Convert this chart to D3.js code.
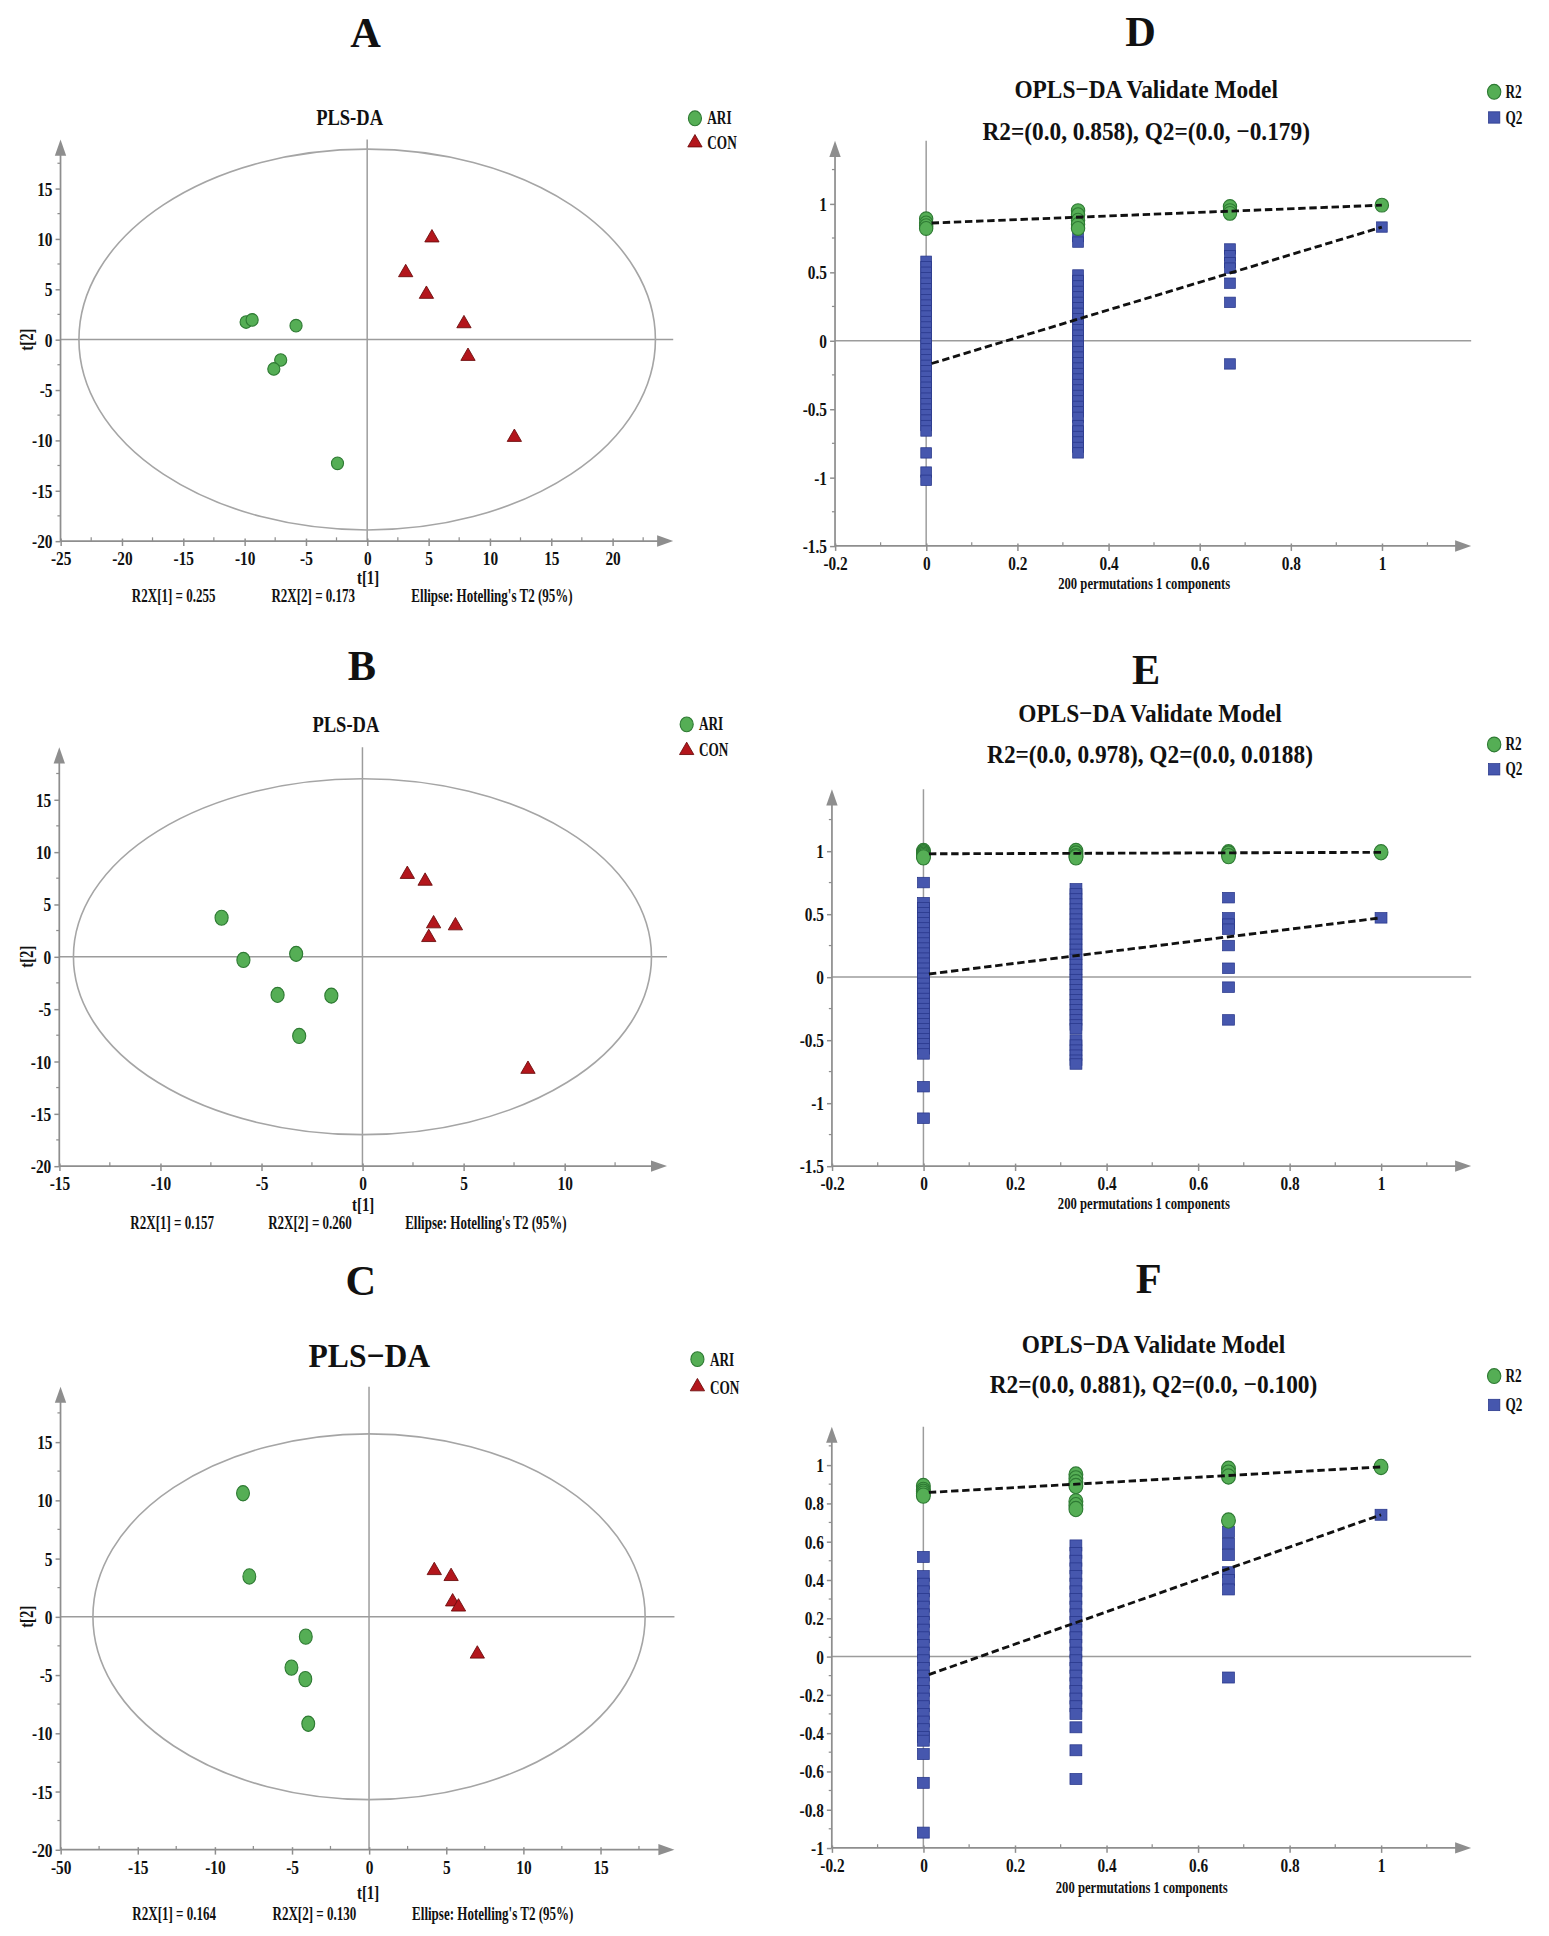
<!DOCTYPE html>
<html>
<head>
<meta charset="utf-8">
<script src="https://cdn.jsdelivr.net/npm/d3@7"></script>
<style>
body { margin: 0; background: #fff; }
svg text { font-family: "Liberation Serif", "Times New Roman", serif; font-weight: bold; fill: #111; }
</style>
</head>
<body>
<div id="fig"></div>
<script>

// ---- PLS-DA score plots (t[1], t[2]) ----
var ariA = [[-9.87, 1.74], [-9.38, 1.95], [-5.8, 1.38], [-7.05, -2.03], [-7.61, -2.92], [-2.42, -12.29]];
var conA = [[5.28, 10.1], [3.14, 6.65], [4.83, 4.5], [7.89, 1.58], [8.22, -1.66], [12.0, -9.7]];
var ariB = [[-6.97, 3.72], [-5.89, -0.31], [-3.28, 0.27], [-4.2, -3.65], [-1.54, -3.72], [-3.13, -7.57]];
var conB = [[2.22, 7.87], [3.1, 7.22], [3.52, 3.15], [4.6, 2.96], [3.28, 1.84], [8.19, -10.75]];
var ariC = [[-8.17, 10.6], [-7.76, 3.46], [-4.1, -1.71], [-5.03, -4.37], [-4.13, -5.36], [-3.94, -9.19]];
var conC = [[4.23, 3.97], [5.32, 3.46], [5.42, 1.28], [5.8, 0.84], [7.02, -3.2]];

// hotelling T2 ellipse half axes (t1, t2)
var ellA = [23.5, 18.9];
var ellB = [14.3, 17.0];
var ellC = [17.9, 15.7];

var statsA = ["R2X[1] = 0.255", "R2X[2] = 0.173", "Ellipse: Hotelling's T2 (95%)"];
var statsB = ["R2X[1] = 0.157", "R2X[2] = 0.260", "Ellipse: Hotelling's T2 (95%)"];
var statsC = ["R2X[1] = 0.164", "R2X[2] = 0.130", "Ellipse: Hotelling's T2 (95%)"];

var xTicksA = [-25, -20, -15, -10, -5, 0, 5, 10, 15, 20];
var xTicksB = [-15, -10, -5, 0, 5, 10];
var xTicksC = [-20, -15, -10, -5, 0, 5, 10, 15];
var xLabelsC = ["-50", "-15", "-10", "-5", "0", "5", "10", "15"];   // first label printed as -50 in the figure
var yTicksScore = [-20, -15, -10, -5, 0, 5, 10, 15];

// ---- permutation tests (200 permutations) ----
var permX = [0, 0.3333, 0.6667, 1];

var r2D = [[0.89, 0.86, 0.84, 0.82], [0.95, 0.92, 0.88, 0.85, 0.82], [0.98, 0.95, 0.93], [0.99]];
var q2D = [
  [0.58, 0.54, 0.50, 0.46, 0.42, 0.38, 0.34, 0.30, 0.26, 0.22, 0.18, 0.14, 0.10, 0.06, 0.02, -0.02, -0.06, -0.10, -0.14, -0.18, -0.22, -0.26, -0.30, -0.34, -0.38, -0.42, -0.46, -0.50, -0.54, -0.58, -0.62, -0.66, -0.82, -0.96, -1.02],
  [0.76, 0.72, 0.48, 0.44, 0.40, 0.36, 0.32, 0.28, 0.24, 0.20, 0.16, 0.12, 0.08, 0.04, 0.00, -0.04, -0.08, -0.12, -0.16, -0.20, -0.24, -0.28, -0.32, -0.36, -0.40, -0.44, -0.48, -0.52, -0.56, -0.62, -0.66, -0.70, -0.74, -0.78, -0.82],
  [0.67, 0.62, 0.57, 0.53, 0.42, 0.28, -0.17],
  [0.83]
];
var r2LineD = [0.858, 0.99];
var q2LineD = [-0.179, 0.83];

var r2E = [[1.0, 0.99, 0.98, 0.97, 0.96, 0.95], [1.0, 0.98, 0.96, 0.95], [0.99, 0.98, 0.96], [0.99]];
var q2E = [
  [0.75, 0.59, 0.55, 0.51, 0.47, 0.43, 0.39, 0.35, 0.31, 0.27, 0.23, 0.19, 0.15, 0.11, 0.07, 0.03, -0.01, -0.05, -0.09, -0.13, -0.17, -0.21, -0.25, -0.29, -0.33, -0.37, -0.41, -0.45, -0.49, -0.53, -0.57, -0.61, -0.87, -1.12],
  [0.70, 0.66, 0.62, 0.58, 0.54, 0.50, 0.46, 0.42, 0.38, 0.34, 0.30, 0.26, 0.22, 0.18, 0.14, 0.10, 0.06, 0.02, -0.02, -0.06, -0.10, -0.14, -0.18, -0.22, -0.26, -0.30, -0.34, -0.38, -0.41, -0.50, -0.54, -0.58, -0.62, -0.66, -0.69],
  [0.63, 0.47, 0.42, 0.38, 0.25, 0.07, -0.08, -0.34],
  [0.47]
];
var r2LineE = [0.978, 0.99];
var q2LineE = [0.0188, 0.47];

var r2F = [[0.89, 0.87, 0.86, 0.85, 0.84], [0.95, 0.93, 0.91, 0.89, 0.81, 0.79, 0.77], [0.98, 0.96, 0.94, 0.71], [0.99]];
var q2F = [
  [0.52, 0.42, 0.38, 0.34, 0.30, 0.26, 0.22, 0.18, 0.14, 0.10, 0.06, 0.02, -0.02, -0.06, -0.10, -0.14, -0.18, -0.22, -0.26, -0.30, -0.34, -0.38, -0.42, -0.44, -0.51, -0.66, -0.92],
  [0.58, 0.54, 0.50, 0.46, 0.42, 0.38, 0.34, 0.30, 0.26, 0.22, 0.18, 0.14, 0.10, 0.06, 0.02, -0.02, -0.06, -0.10, -0.14, -0.18, -0.22, -0.26, -0.30, -0.37, -0.49, -0.64],
  [0.65, 0.59, 0.53, 0.44, 0.40, 0.35, -0.11],
  [0.74]
];
var r2LineF = [0.855, 0.99];
var q2LineF = [-0.105, 0.74];

var permXTicks = [-0.2, 0, 0.2, 0.4, 0.6, 0.8, 1];
var permXLabels = ["-0.2", "0", "0.2", "0.4", "0.6", "0.8", "1"];
var yTicksDE = [-1.5, -1, -0.5, 0, 0.5, 1];
var yLabelsDE = ["-1.5", "-1", "-0.5", "0", "0.5", "1"];
var yTicksF = [-1, -0.8, -0.6, -0.4, -0.2, 0, 0.2, 0.4, 0.6, 0.8, 1];
var yLabelsF = ["-1", "-0.8", "-0.6", "-0.4", "-0.2", "0", "0.2", "0.4", "0.6", "0.8", "1"];

var permTitle = "OPLS\u2212DA Validate Model";
var subD = "R2=(0.0, 0.858), Q2=(0.0, \u22120.179)";
var subE = "R2=(0.0, 0.978), Q2=(0.0, 0.0188)";
var subF = "R2=(0.0, 0.881), Q2=(0.0, \u22120.100)";
var permXLabel = "200 permutations 1 components";

// ---- colours ----
var AXIS = "#8e8e8e", GREEN = "#55ae55", GREEN_D = "#2e7a33", RED = "#b3161c", RED_D = "#6a0b0b", BLUE = "#4657ae", BLUE_D = "#27368a";

var W = 1254, H = 1567.3;   // drawing units, scaled to the 1549x1936 page
var svg = d3.select("#fig").append("svg")
  .attr("width", 1549).attr("height", 1936)
  .attr("viewBox", "0 0 " + W + " " + H);
svg.append("rect").attr("width", W).attr("height", H).attr("fill", "#fff");

function txt(g, x, y, s, size, sx, anchor) {
  return g.append("text")
    .attr("transform", "translate(" + x + "," + y + ") scale(" + sx + ",1)")
    .attr("text-anchor", anchor || "middle")
    .style("font-size", size + "px")
    .text(s);
}

function minorOf(ticks, dom) {
  var step = ticks[1] - ticks[0], out = [];
  ticks.forEach(function(t) {
    var m = t + step / 2;
    if (m < dom[1]) out.push(m);
  });
  return out;
}

function axes(g, f, x, y, xt, xl, yt, yl) {
  var sx = 0.8, fs = "15.5px";
  // lines + arrows
  g.append("line").attr("x1", f.l).attr("x2", f.r - 12).attr("y1", f.b).attr("y2", f.b)
    .attr("stroke", AXIS).attr("stroke-width", 1.4);
  g.append("path").attr("d", "M" + f.r + "," + f.b + "L" + (f.r - 13) + "," + (f.b - 4.6) + "L" + (f.r - 13) + "," + (f.b + 4.6) + "Z")
    .attr("fill", AXIS);
  g.append("line").attr("x1", f.l).attr("x2", f.l).attr("y1", f.b).attr("y2", f.t + 12)
    .attr("stroke", AXIS).attr("stroke-width", 1.4);
  g.append("path").attr("d", "M" + f.l + "," + f.t + "L" + (f.l - 4.6) + "," + (f.t + 13) + "L" + (f.l + 4.6) + "," + (f.t + 13) + "Z")
    .attr("fill", AXIS);

  var xa = g.append("g").attr("transform", "translate(0," + f.b + ")")
    .call(d3.axisBottom(x).tickValues(xt).tickFormat(function(d, i) { return xl[i]; }).tickSizeInner(4).tickSizeOuter(0));
  xa.select(".domain").remove();
  xa.selectAll(".tick line").attr("y1", -2).attr("y2", 4).attr("stroke", AXIS).attr("stroke-width", 1.2);
  xa.selectAll(".tick text").attr("y", 19.5).attr("dy", null)
    .attr("transform", "scale(" + sx + ",1)").style("font-size", fs);

  var ya = g.append("g").attr("transform", "translate(" + f.l + ",0)")
    .call(d3.axisLeft(y).tickValues(yt).tickFormat(function(d, i) { return yl[i]; }).tickSizeInner(4).tickSizeOuter(0));
  ya.select(".domain").remove();
  ya.selectAll(".tick line").attr("stroke", AXIS).attr("stroke-width", 1.2);
  ya.selectAll(".tick text").attr("x", -6.5 / sx).attr("dy", "0.34em")
    .attr("transform", "scale(" + sx + ",1)").style("font-size", fs);

  g.selectAll(null).data(minorOf(xt, x.domain())).join("line")
    .attr("x1", function(d) { return x(d); }).attr("x2", function(d) { return x(d); })
    .attr("y1", f.b - 3).attr("y2", f.b).attr("stroke", AXIS).attr("stroke-width", 1);
  g.selectAll(null).data(minorOf(yt, y.domain())).join("line")
    .attr("y1", function(d) { return y(d); }).attr("y2", function(d) { return y(d); })
    .attr("x1", f.l - 2.5).attr("x2", f.l).attr("stroke", AXIS).attr("stroke-width", 1);
}

function zeroLines(g, f, x, y) {
  g.append("line").attr("x1", x(0)).attr("x2", x(0)).attr("y1", f.t).attr("y2", f.b)
    .attr("stroke", "#9c9c9c").attr("stroke-width", 1.2);
  g.append("line").attr("x1", f.l).attr("x2", f.r).attr("y1", y(0)).attr("y2", y(0))
    .attr("stroke", "#9c9c9c").attr("stroke-width", 1.2);
}

var tri = d3.symbol().type(d3.symbolTriangle).size(58);

function scorePanel(c) {
  var g = svg.append("g");
  var f = c.frame;
  var x = d3.scaleLinear().domain(c.xDom).range([f.l, f.r]);
  var y = d3.scaleLinear().domain(c.yDom).range([f.b, f.t]);

  txt(g, c.letter[0], c.letter[1], c.letter[2], 35, 0.98);
  txt(g, c.title[0], c.title[1], c.title[2], c.title[3], c.title[4]);

  zeroLines(g, f, x, y);
  g.append("ellipse").attr("cx", x(0)).attr("cy", y(0))
    .attr("rx", x(c.ell[0]) - x(0)).attr("ry", y(0) - y(c.ell[1]))
    .attr("fill", "none").attr("stroke", "#a5a5a5").attr("stroke-width", 1.3);
  axes(g, f, x, y, c.xTicks, c.xLabels, yTicksScore, yTicksScore.map(String));

  g.selectAll(".ari").data(c.ari).join("ellipse").attr("class", "ari")
    .attr("cx", function(d) { return x(d[0]); }).attr("cy", function(d) { return y(d[1]); })
    .attr("rx", c.m[0]).attr("ry", c.m[1])
    .attr("fill", GREEN).attr("stroke", GREEN_D).attr("stroke-width", 0.9);
  g.selectAll(".con").data(c.con).join("path").attr("class", "con")
    .attr("d", tri)
    .attr("transform", function(d) { return "translate(" + x(d[0]) + "," + y(d[1]) + ")"; })
    .attr("fill", RED).attr("stroke", RED_D).attr("stroke-width", 0.7);

  // axis titles
  txt(g, c.t1[0], c.t1[1], "t[1]", 15, 0.8);
  g.append("text")
    .attr("transform", "translate(" + 27 + "," + y(0) + ") rotate(-90) scale(0.8,1)")
    .attr("text-anchor", "middle").style("font-size", "15px").text("t[2]");

  c.statX.forEach(function(sx, i) { txt(g, sx, c.statY, c.stats[i], 15.5, 0.68); });

  // legend
  var L = c.legend;
  g.append("ellipse").attr("cx", L.x).attr("cy", L.y1).attr("rx", 5.3).attr("ry", 6)
    .attr("fill", GREEN).attr("stroke", GREEN_D).attr("stroke-width", 0.9);
  g.append("path").attr("d", tri).attr("transform", "translate(" + L.x + "," + L.y2 + ")")
    .attr("fill", RED).attr("stroke", RED_D).attr("stroke-width", 0.7);
  txt(g, L.tx, L.b1, "ARI", 14.5, 0.74, "start");
  txt(g, L.tx, L.b2, "CON", 14.5, 0.74, "start");
}

function permPanel(c) {
  var g = svg.append("g");
  var f = c.frame;
  var x = d3.scaleLinear().domain(c.xDom).range([f.l, f.r]);
  var y = d3.scaleLinear().domain(c.yDom).range([f.b, f.t]);

  txt(g, c.letter[0], c.letter[1], c.letter[2], 35, 0.98);
  txt(g, c.title[0], c.title[1], permTitle, 21, 0.9);
  txt(g, c.title[0], c.subY, c.sub, 21, 0.9);

  zeroLines(g, f, x, y);
  axes(g, f, x, y, permXTicks, permXLabels, c.yTicks, c.yLabels);

  var q = [], r = [];
  c.q2.forEach(function(col, i) { col.forEach(function(v) { q.push([permX[i], v]); }); });
  c.r2.forEach(function(col, i) { col.forEach(function(v) { r.push([permX[i], v]); }); });

  g.selectAll(".q2").data(q).join("rect").attr("class", "q2")
    .attr("x", function(d) { return x(d[0]) - c.sq[0] / 2; })
    .attr("y", function(d) { return y(d[1]) - c.sq[1] / 2; })
    .attr("width", c.sq[0]).attr("height", c.sq[1])
    .attr("fill", BLUE).attr("stroke", BLUE_D).attr("stroke-width", 0.6);
  g.selectAll(".r2").data(r).join("ellipse").attr("class", "r2")
    .attr("cx", function(d) { return x(d[0]); }).attr("cy", function(d) { return y(d[1]); })
    .attr("rx", c.m[0]).attr("ry", c.m[1])
    .attr("fill", GREEN).attr("stroke", GREEN_D).attr("stroke-width", 0.9);

  [c.r2Line, c.q2Line].forEach(function(ln) {
    g.append("line")
      .attr("x1", x(0.012)).attr("y1", y(ln[0] + (ln[1] - ln[0]) * 0.012))
      .attr("x2", x(1)).attr("y2", y(ln[1]))
      .attr("stroke", "#111").attr("stroke-width", 2.3).attr("stroke-dasharray", "6,3");
  });

  txt(g, c.xl[0], c.xl[1], permXLabel, 13.5, 0.76);

  var L = c.legend;
  g.append("ellipse").attr("cx", L.x).attr("cy", L.y1).attr("rx", 5.4).attr("ry", 6)
    .attr("fill", GREEN).attr("stroke", GREEN_D).attr("stroke-width", 0.9);
  g.append("rect").attr("x", L.x - 4.6).attr("y", L.y2 - 4.6).attr("width", 9.2).attr("height", 9.2)
    .attr("fill", BLUE).attr("stroke", BLUE_D).attr("stroke-width", 0.6);
  txt(g, L.tx, L.b1, "R2", 14.5, 0.74, "start");
  txt(g, L.tx, L.b2, "Q2", 14.5, 0.74, "start");
}

scorePanel({
  frame: {l: 49, r: 545, t: 113, b: 438}, xDom: [-25, 24.95], yDom: [-20, 19.85],
  letter: [296, 38, "A"], title: [283, 101.5, "PLS-DA", 19, 0.79],
  ell: ellA, ari: ariA, con: conA, m: [4.9, 5.1],
  xTicks: xTicksA, xLabels: xTicksA.map(String),
  t1: [298, 473], stats: statsA, statX: [140.6, 253.6, 398.3], statY: 487,
  legend: {x: 562.6, y1: 95.8, y2: 115.6, tx: 572.6, b1: 100.7, b2: 120.9}
});

scorePanel({
  frame: {l: 48, r: 540, t: 605, b: 944}, xDom: [-15, 15.07], yDom: [-20, 20],
  letter: [293, 550.6, "B"], title: [280, 592.2, "PLS-DA", 19, 0.79],
  ell: ellB, ari: ariB, con: conB, m: [5.3, 6.1],
  xTicks: xTicksB, xLabels: xTicksB.map(String),
  t1: [294, 980], stats: statsB, statX: [139.4, 251, 393.3], statY: 994.6,
  legend: {x: 555.9, y1: 586.4, y2: 607.5, tx: 565.8, b1: 591.3, b2: 612.4}
});

scorePanel({
  frame: {l: 49, r: 546, t: 1122.6, b: 1497.4}, xDom: [-20, 19.8], yDom: [-20, 19.75],
  letter: [292, 1048.7, "C"], title: [299, 1106.5, "PLS\u2212DA", 27.5, 0.93],
  ell: ellC, ari: ariC, con: conC, m: [5.2, 6.2],
  xTicks: xTicksC, xLabels: xLabelsC,
  t1: [298, 1537], stats: statsC, statX: [141, 254.5, 398.9], statY: 1554,
  legend: {x: 564.6, y1: 1100.3, y2: 1122.6, tx: 574.7, b1: 1105.5, b2: 1128.5}
});

permPanel({
  frame: {l: 676, r: 1191, t: 114, b: 442}, xDom: [-0.2, 1.196], yDom: [-1.5, 1.46],
  letter: [923.4, 37.3, "D"], title: [927.9, 79.3], subY: 113, sub: subD,
  yTicks: yTicksDE, yLabels: yLabelsDE,
  r2: r2D, q2: q2D, r2Line: r2LineD, q2Line: q2LineD, m: [5.4, 5.6], sq: [8.7, 8.4],
  xl: [926.3, 477],
  legend: {x: 1209.6, y1: 74.3, y2: 95.1, tx: 1218.7, b1: 79.3, b2: 100.1}
});

permPanel({
  frame: {l: 673.5, r: 1191, t: 639, b: 944}, xDom: [-0.2, 1.197], yDom: [-1.5, 1.49],
  letter: [927.9, 553.9, "E"], title: [931, 584.8], subY: 617.3, sub: subE,
  yTicks: yTicksDE, yLabels: yLabelsDE,
  r2: r2E, q2: q2E, r2Line: r2LineE, q2Line: q2LineE, m: [5.6, 6.2], sq: [9.6, 8.5],
  xl: [926, 978.5],
  legend: {x: 1209.6, y1: 602.7, y2: 622.8, tx: 1218.7, b1: 607.5, b2: 627.7}
});

permPanel({
  frame: {l: 673.4, r: 1191, t: 1155, b: 1496}, xDom: [-0.2, 1.197], yDom: [-1, 1.2],
  letter: [929.9, 1047, "F"], title: [933.8, 1095.1], subY: 1127.8, sub: subF,
  yTicks: yTicksF, yLabels: yLabelsF,
  r2: r2F, q2: q2F, r2Line: r2LineF, q2Line: q2LineF, m: [5.6, 6.2], sq: [9.6, 8.9],
  xl: [924.3, 1532.5],
  legend: {x: 1209.6, y1: 1114, y2: 1137.4, tx: 1218.7, b1: 1119.2, b2: 1142.6}
});

</script>
</body>
</html>
